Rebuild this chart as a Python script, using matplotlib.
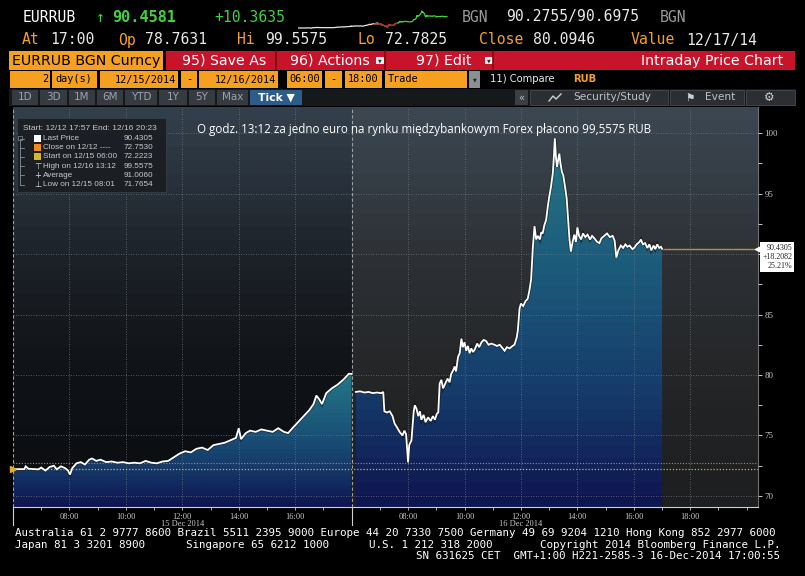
import matplotlib
matplotlib.use("Agg")
import matplotlib.pyplot as plt
import matplotlib.patheffects as pe
import matplotlib.transforms as mtransforms
from matplotlib.colors import to_rgb
from matplotlib.patches import Rectangle
import numpy as np

# EURRUB ticks (clock hours, price)
day1_clock = [6.00, 6.40, 6.45, 6.55, 6.90, 7.00, 7.15, 7.30, 7.45, 7.55, 7.70, 7.85,
              7.95, 8.02, 8.10, 8.25, 8.40, 8.55, 8.70, 8.80, 8.95, 9.10, 9.30, 9.50,
              9.70, 9.90, 10.10, 10.30, 10.50, 10.70, 10.90, 11.10, 11.30, 11.50, 11.70,
              11.90, 12.10, 12.30, 12.50, 12.70, 12.90, 13.10, 13.30, 13.50, 13.70, 13.90,
              14.00, 14.08, 14.25, 14.40, 14.60, 14.80, 15.00, 15.20, 15.40, 15.60, 15.75,
              15.90, 16.10, 16.30, 16.50, 16.65, 16.75, 16.85, 16.95, 17.10, 17.30, 17.50,
              17.70, 17.90, 18.00]
day1_price = [72.22, 72.22, 72.45, 72.25, 72.20, 72.35, 72.10, 72.40, 72.50, 72.20, 72.45, 72.30,
              72.10, 71.77, 72.30, 72.70, 72.80, 72.60, 73.00, 73.10, 72.90, 73.00, 72.80, 72.85,
              72.75, 72.80, 72.70, 72.75, 72.70, 72.90, 72.75, 72.70, 72.85, 72.90, 73.20,
              73.50, 73.70, 73.60, 73.90, 74.00, 73.80, 74.20, 74.30, 74.40, 74.60, 74.80,
              75.60, 74.70, 75.20, 75.40, 75.30, 75.50, 75.40, 75.30, 75.60, 75.30, 75.20,
              75.60, 76.10, 76.60, 77.10, 77.60, 78.30, 78.00, 77.60, 78.50, 78.90, 79.20,
              79.60, 80.10, 80.09]

day2_clock = [6.15, 6.30, 6.45, 6.60, 6.75, 6.90, 7.05, 7.12, 7.16, 7.25, 7.35, 7.45,
              7.52, 7.60, 7.70, 7.80, 7.87, 7.93, 7.98, 8.00, 8.04, 8.12, 8.20, 8.24,
              8.30, 8.36, 8.42, 8.47, 8.55, 8.62, 8.71, 8.80, 8.88, 8.95, 9.02, 9.07,
              9.12, 9.18, 9.24, 9.30, 9.40, 9.47, 9.53, 9.60, 9.65, 9.70, 9.77, 9.83,
              9.89, 9.94, 10.00, 10.06, 10.12, 10.18, 10.24, 10.30, 10.36, 10.45, 10.52,
              10.60, 10.68, 10.77, 10.85, 10.95, 11.06, 11.15, 11.25, 11.35, 11.42, 11.50,
              11.60, 11.70, 11.77, 11.85, 11.89, 11.95, 12.00, 12.08, 12.16, 12.24, 12.30,
              12.36, 12.42, 12.48, 12.54, 12.60, 12.67, 12.72, 12.77, 12.83, 12.89, 12.95,
              13.00, 13.06, 13.13, 13.17, 13.20, 13.24, 13.28, 13.32, 13.36, 13.40, 13.45,
              13.50, 13.56, 13.62, 13.68, 13.72, 13.77, 13.83, 13.89, 13.95, 14.00, 14.06,
              14.13, 14.20, 14.28, 14.36, 14.45, 14.52, 14.60, 14.70, 14.78, 14.85, 14.95,
              15.05, 15.15, 15.25, 15.32, 15.38, 15.45, 15.54, 15.62, 15.70, 15.77, 15.85,
              15.95, 16.01, 16.10, 16.20, 16.25, 16.32, 16.40, 16.48, 16.55, 16.62, 16.70,
              16.76, 16.83, 16.90, 16.96, 17.00]
day2_price = [78.60, 78.65, 78.55, 78.60, 78.50, 78.55, 78.50, 78.60, 77.00, 76.90, 77.00, 76.60,
              76.00, 75.70, 75.30, 75.00, 75.40, 75.10, 73.40, 72.78, 74.20, 74.60, 77.00, 77.50,
              77.20, 76.60, 77.00, 76.30, 76.70, 76.10, 76.50, 76.20, 76.60, 76.30, 76.80, 76.90,
              79.30, 79.60, 78.90, 79.20, 79.70, 79.40, 80.10, 80.40, 80.70, 80.30, 81.50, 81.80,
              83.00, 82.30, 82.70, 82.00, 82.40, 81.80, 82.20, 81.90, 82.10, 82.60, 82.30,
              82.70, 82.90, 82.80, 82.50, 82.60, 82.50, 82.40, 82.50, 82.20, 82.00, 82.30,
              82.20, 82.40, 82.50, 83.10, 83.70, 85.50, 85.90, 85.70, 86.10, 86.30, 87.00,
              87.90, 90.50, 92.30, 91.20, 91.50, 91.20, 91.80, 91.70, 92.40, 92.80, 93.90,
              94.70, 95.50, 96.70, 98.20, 99.56, 98.00, 97.20, 97.80, 98.30, 97.50, 96.80,
              96.50, 95.60, 94.60, 92.50, 91.20, 90.20, 91.00, 91.60, 91.00, 92.20, 91.50,
              91.20, 91.70, 91.40, 91.60, 91.20, 91.50, 91.30, 91.00, 90.90, 91.30, 91.50,
              91.70, 91.40, 91.50, 91.10, 89.70, 90.30, 90.70, 90.50, 90.80, 90.60, 90.70,
              90.40, 90.50, 90.80, 91.00, 91.20, 90.80, 90.90, 90.50, 90.80, 90.30, 90.70,
              90.40, 90.80, 90.50, 90.60, 90.43]

prev_close = 80.0946
close_1212 = 72.7530
start_1215 = 72.2223
last_price = 90.4305

x_ticks = [2, 4, 6, 8, 10, 14, 16, 18, 20, 22, 24]
x_labels = ["08:00", "10:00", "12:00", "14:00", "16:00",
            "08:00", "10:00", "12:00", "14:00", "16:00", "18:00"]
day_labels = [(6, "15 Dec 2014"), (18, "16 Dec 2014")]
y_ticks = [70, 75, 80, 85, 90, 95, 100]
y_labels = ["70", "75", "80", "85", "", "95", "100"]

legend_head = "Start: 12/12 17:57 End: 12/16 20:23"
legend_rows = [("Last Price", "90.4305"),
               ("Close on 12/12 ----", "72.7530"),
               ("Start on 12/15 06:00", "72.2223"),
               ("High on 12/16 13:12", "99.5575"),
               ("Average", "91.0060"),
               ("Low on 12/15 08:01", "71.7654")]
legend_marks = ["#ffffff", "#f08a1c", "#d8b428", "\u22a4", "+", "\u22a5"]

note = "O godz. 13:12 za jedno euro na rynku międzybankowym Forex płacono 99,5575 RUB"

ORANGE = "#f5a01e"
GREEN = "#3fd23f"
MONO = "DejaVu Sans Mono"
SERIF = "Liberation Serif"
SMALL = "Liberation Sans"

x1 = np.array(day1_clock) - 6
p1 = np.array(day1_price)
x2 = np.array(day2_clock) - 6 + 12
p2 = np.array(day2_price)
XMAX = 26.4
Y0, Y1 = 69.09, 102.15


def vgrad(stops, n=240, bands=30):
    pos = np.linspace(0, 1, n)
    pos = (np.floor(pos * bands) + 0.5) / bands
    cols = np.array([to_rgb(c) for _, c in stops])
    ps = [p for p, _ in stops]
    rgb = np.stack([np.interp(pos, ps, cols[:, k]) for k in range(3)], axis=1)
    return rgb[:, None, :]


fig = plt.figure(figsize=(8.05, 5.76), dpi=100, facecolor="black")

# ---------------- main chart ----------------
ax = fig.add_axes([13 / 805, 1 - 507 / 576, 745 / 805, 400 / 576], zorder=1)
ax.imshow(vgrad([(0, "#1d1e20"), (0.35, "#252628"), (0.62, "#2d3135"), (1, "#3c4753")]),
          extent=[0, XMAX, Y0, Y1], origin="lower", aspect="auto", zorder=0)
ax.imshow(vgrad([(0, "#0a0c10"), (0.32, "#0f1216"), (0.6, "#1b2027"), (1, "#34404c")]),
          extent=[0, 12, Y0, Y1], origin="lower", aspect="auto", zorder=0.1)

fill_stops = [(0, "#0e1450"), (0.3, "#163a6a"), (0.6, "#1b5678"), (1, "#247888")]
for x, p in [(x1, p1), (x2, p2)]:
    poly = ax.fill_between(x, Y0, p, facecolor="none", lw=0)
    im = ax.imshow(vgrad(fill_stops), extent=[x[0], x[-1], Y0, p.max()],
                   origin="lower", aspect="auto", zorder=1)
    im.set_clip_path(poly.get_paths()[0], transform=ax.transData)
    ax.plot(x, p, color="white", lw=1.3, zorder=4, solid_joinstyle="miter",
            path_effects=[pe.Stroke(linewidth=2.5, foreground="#111111", alpha=0.5),
                          pe.Normal()])

ax.axhline(close_1212, color="#e07b1a", lw=0.8, ls=(0, (1, 1.5)), zorder=3)
ax.axhline(start_1215, color="#d9b52a", lw=0.9, ls=(0, (1, 1.5)), zorder=3)
ax.hlines(last_price, x2[-1], XMAX, color="#b8923a", lw=1.0, zorder=3)
ax.plot([0], [start_1215], marker=">", ms=4, color="#e0b020", clip_on=False, zorder=5)

ax.set_xlim(0, XMAX)
ax.set_ylim(Y0, Y1)
ax.set_axisbelow(False)
grid_kw = dict(color="#6b7580", lw=0.6, ls=(0, (1, 2)))
for xt in x_ticks:
    ax.axvline(xt, zorder=2.5, **grid_kw)
for yt in y_ticks:
    ax.axhline(yt, zorder=2.5, **grid_kw)
for xd in [0, 12]:
    ax.axvline(xd, color="#9aa0a6", lw=0.8, ls=(0, (3, 2)), zorder=2.6)

for s in ["top", "left"]:
    ax.spines[s].set_visible(False)
ax.spines["bottom"].set_color("#d0d0d0")
ax.spines["bottom"].set_linewidth(0.8)
ax.spines["right"].set_color("#707070")

ax.set_xticks(x_ticks)
ax.set_xticklabels(x_labels, fontsize=6.0, family=SERIF, color="#c8c8c8")
ax.set_xticks(np.arange(1, XMAX, 1), minor=True)
ax.tick_params(axis="x", which="both", colors="#c8c8c8", length=2.5, width=0.6, pad=1.5)
ax.yaxis.tick_right()
ax.set_yticks(y_ticks)
ax.set_yticklabels(y_labels, fontsize=6.4, family=SERIF, color="#c8c8c8")
ax.set_yticks(np.arange(72.5, 101, 5), minor=True)
ax.tick_params(axis="y", which="both", colors="#c8c8c8", length=3, width=0.7, pad=1.5)

blend = mtransforms.blended_transform_factory(ax.transData, ax.transAxes)
for xd in [0, 12]:
    ax.plot([xd, xd], [0, -0.045], color="#d0d0d0", lw=0.8, transform=blend, clip_on=False)
for xd, lab in day_labels:
    ax.text(xd, -0.042, lab, transform=blend, ha="center", va="center",
            fontsize=6.0, family=SERIF, color="#c8c8c8")

yblend = mtransforms.blended_transform_factory(ax.transAxes, ax.transData)
ax.plot([1.0], [last_price], marker="<", ms=4, color="white", transform=yblend,
        clip_on=False, zorder=6)
ax.text(1.006, last_price, "90.4305\n+18.2082\n25.21%", ha="left", va="top",
        multialignment="right", fontsize=5.8, family=SERIF, color="#222222",
        linespacing=1.15, transform=mtransforms.offset_copy(yblend, fig=fig, x=0, y=5, units="dots"),
        bbox=dict(boxstyle="square,pad=0.25", fc="white", ec="none"), clip_on=False, zorder=6)

# ---------------- mini sparkline in header ----------------
sp = fig.add_axes([298 / 805, 1 - 30 / 576, 155 / 805, 22 / 576], zorder=6)
sp.set_axis_off()
sx2 = x2 - 0.6
sp.plot(x1, p1, color="#e8e8e8", lw=0.9)
sp.plot(sx2, p2, color=GREEN, lw=0.9)
sp.plot(sx2, np.where(p2 < prev_close, p2, np.nan), color="#d02020", lw=0.9)
sp.set_xlim(0, 23.3)
sp.set_ylim(69, 104.3)

# ---------------- terminal chrome ----------------
ui = fig.add_axes([0, 0, 1, 1], zorder=5)
ui.set_xlim(0, 805)
ui.set_ylim(576, 0)
ui.set_axis_off()
ui.patch.set_visible(False)


def box(x0, y0, x1, y1, fc, ec="none", lw=0.6, alpha=1.0):
    ui.add_patch(Rectangle((x0, y0), x1 - x0, y1 - y0, fc=fc, ec=ec, lw=lw, alpha=alpha))


def txt(x, y, s, size=10.6, color="white", family=MONO, ha="left", **kw):
    ui.text(x, y, s, fontsize=size, color=color, family=family, ha=ha, va="center", **kw)


# row 1
txt(23, 17, "EURRUB")
txt(96, 17, "\u2191", color=GREEN)
txt(112, 17, "90.4581", color=GREEN, weight="bold", size=11)
txt(214, 17, "+10.3635", color=GREEN)
txt(462, 17, "BGN", color="#9a9a9a")
txt(506, 17, "90.2755/90.6975", color="#e8e8e8")
txt(660, 17, "BGN", color="#9a9a9a")

# row 2
for x, s, c in [(22, "At", ORANGE), (50, "17:00", "#e8e8e8"), (118, "Op", ORANGE),
                (145, "78.7631", "#e8e8e8"), (237, "Hi", ORANGE), (265, "99.5575", "#e8e8e8"),
                (357, "Lo", ORANGE), (385, "72.7825", "#e8e8e8"), (479, "Close", ORANGE),
                (533, "80.0946", "#e8e8e8"), (631, "Value", ORANGE), (686, "12/17/14", "#e8e8e8")]:
    txt(x, 40, s, color=c)

# row 3
box(9, 51, 163, 70, ORANGE)
txt(12, 60.5, "EURRUB BGN Curncy", color="black", family="DejaVu Sans", size=10.2)
box(166, 51, 795, 70, "#c8142a")
for xs in [276, 385, 493]:
    ui.plot([xs, xs], [51, 70], color="#7a0a14", lw=1.2)
txt(182, 60.5, "95) Save As", family="DejaVu Sans", size=10.2)
txt(290, 60.5, "96) Actions", family="DejaVu Sans", size=10.2)
txt(416, 60.5, "97) Edit", family="DejaVu Sans", size=10.2)
for xd in [376, 485]:
    box(xd, 57, xd + 8, 64, "#f0f0f0")
    txt(xd + 4, 60.5, "\u25bc", size=3.5, color="#333333", family="DejaVu Sans", ha="center")
txt(783, 60.5, "Intraday Price Chart", family="DejaVu Sans", size=10.2, ha="right")

# row 4
for x0, x1_, s, ha in [(10, 50, "2", "right"), (52, 97, "day(s)", "left"),
                       (100, 178, "12/15/2014", "right"), (181, 197, "-", "center"),
                       (199, 278, "12/16/2014", "right"), (287, 322, "06:00", "center"),
                       (325, 342, "-", "center"), (345, 382, "18:00", "center"),
                       (385, 467, "Trade", "left")]:
    box(x0, 71, x1_, 87.5, ORANGE)
    xt = {"left": x0 + 3, "right": x1_ - 2, "center": (x0 + x1_) / 2}[ha]
    txt(xt, 79.5, s, color="black", size=7.4, ha=ha)
box(469, 71, 480, 87.5, "#8a8f95")
txt(474.5, 79.5, "\u25bc", size=3.5, color="#222222", family="DejaVu Sans", ha="center")
txt(490, 79.5, "11) Compare", family="DejaVu Sans", size=7.2, color="#e8e8e8")
txt(573, 79.5, "RUB", family="DejaVu Sans", size=7.2, color=ORANGE, weight="bold")

# row 5
box(9, 89, 795, 106, "#16191c")
for x0, x1_, s in [(12, 38, "1D"), (40, 67, "3D"), (69, 95, "1M"), (97, 123, "6M"),
                   (125, 157, "YTD"), (159, 187, "1Y"), (189, 215, "5Y"), (217, 248, "Max")]:
    box(x0, 90, x1_, 105, "#363b42")
    txt((x0 + x1_) / 2, 97.5, s, family="DejaVu Sans", size=7.5, color="#9aa3ad", ha="center")
box(250, 90, 302, 105, "#2b5c8a")
txt(276, 97.5, "Tick \u25bc", family="DejaVu Sans", size=7.8, color="white", ha="center",
    weight="bold")
box(515, 90, 528, 105, "#3a3f46")
txt(521.5, 97.5, "\u00ab", family="DejaVu Sans", size=7, color="#c0c0c0", ha="center")
box(530, 90, 668, 105, "#2b2f34", ec="#444a50")
ui.plot([549, 553, 556, 561], [101, 96, 99, 94], color="#d0d0d0", lw=1.0)
txt(573, 97.5, "Security/Study", family="DejaVu Sans", size=7.6, color="#c0c0c0")
box(670, 90, 744, 105, "#2b2f34", ec="#444a50")
txt(685, 97.5, "\u2691", family="DejaVu Sans", size=7.6, color="#d0d0d0")
txt(705, 97.5, "Event", family="DejaVu Sans", size=7.6, color="#c0c0c0")
box(746, 90, 795, 105, "#2b2f34", ec="#444a50")
txt(769, 97.5, "\u2699", family="DejaVu Sans", size=8.5, color="#d0d0d0", ha="center")

# legend box inside the chart
box(17, 118, 166, 192, "#1a1e23", ec="#3a4046", alpha=0.93)
txt(23, 128.5, legend_head, family=SMALL, size=6.0, color="#c8c8c8")
ui.plot([20, 20], [140, 185], color="#8a8f95", lw=0.6)
box(18, 135.5, 22, 139.5, "#1a1e23", ec="#8a8f95", lw=0.5)
for i, ((lab, val), mk) in enumerate(zip(legend_rows, legend_marks)):
    yy = 138.5 + i * 9.2
    ui.plot([20, 24], [yy, yy], color="#8a8f95", lw=0.6)
    if mk.startswith("#"):
        box(34, yy - 3.5, 41, yy + 3.5, mk)
    else:
        txt(37.5, yy, mk, family="DejaVu Sans", size=6, color="#d8d8d8", ha="center")
    txt(43, yy, lab, family=SMALL, size=5.9, color="#c8c8c8")
    txt(124, yy, val, family=SMALL, size=5.9, color="#c8c8c8")

txt(197, 129, note, family="Open Sans", size=8.4, color="white")

# footer
FOOT = 7.85
txt(15, 533, "Australia 61 2 9777 8600 Brazil 5511 2395 9000 Europe 44 20 7330 7500 "
             "Germany 49 69 9204 1210 Hong Kong 852 2977 6000", size=FOOT)
txt(15, 545, "Japan 81 3 3201 8900", size=FOOT)
txt(186, 545, "Singapore 65 6212 1000", size=FOOT)
txt(369, 545, "U.S. 1 212 318 2000", size=FOOT)
txt(540, 545, "Copyright 2014 Bloomberg Finance L.P.", size=FOOT)
txt(416, 556, "SN 631625 CET  GMT+1:00 H221-2585-3 16-Dec-2014 17:00:55", size=FOOT)

fig.savefig("out.png", dpi=100, facecolor="black")
